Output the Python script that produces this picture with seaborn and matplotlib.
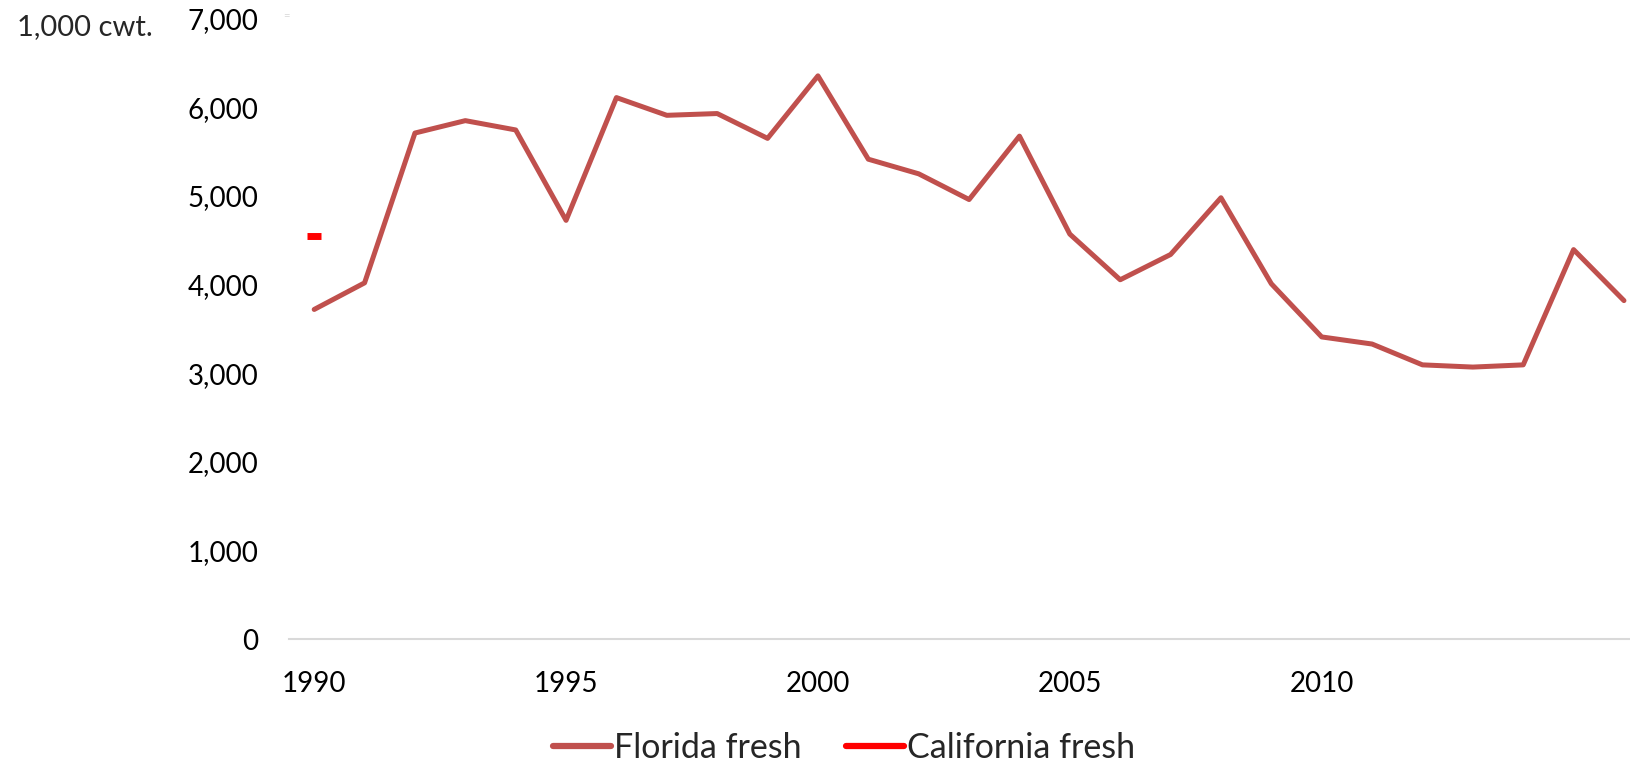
import pandas as pd
import seaborn as sns
import matplotlib.pyplot as plt

years = list(range(1990, 2017))
florida_fresh = [3720, 4020, 5710, 5850, 5745, 4725, 6110, 5910, 5930, 5650,
                 6355, 5415, 5250, 4960, 5675, 4570, 4055, 4340, 4980, 4010,
                 3410, 3330, 3095, 3070, 3095, 4395, 3820]
california_years = [1990]
california_fresh = [4550]
x_ticks = [1990, 1995, 2000, 2005, 2010]
y_ticks = [0, 1000, 2000, 3000, 4000, 5000, 6000, 7000]

sns.set_style("white")
plt.rcParams['font.family'] = ['Lato', 'DejaVu Sans']

fl_df = pd.DataFrame({'year': years, 'value': florida_fresh})
ca_df = pd.DataFrame({'year': california_years, 'value': california_fresh})

fig = plt.figure(figsize=(16.3, 7.66), dpi=100)
ax = fig.add_axes([0.1773, 0.1655, 0.8227, 0.8101])

sns.lineplot(data=fl_df, x='year', y='value', ax=ax, color='#C0504D',
             linewidth=3.6, label='Florida fresh')
# single-point series: draw it as a short dash like Excel does
ax.plot(ca_df['year'], ca_df['value'], color='#FF0000', linestyle='-',
        linewidth=3.6, marker='_', markersize=10, markeredgewidth=5,
        solid_capstyle='round', label='California fresh')

ax.set_xlim(1989.5, 2016.12)
ax.set_ylim(0, 7000)
ax.set_xticks(x_ticks)
ax.set_yticks(y_ticks)
ax.set_yticklabels([f'{v:,}' for v in y_ticks])
ax.tick_params(axis='both', length=0, labelsize=20, colors='black')
ax.tick_params(axis='y', pad=22)
ax.tick_params(axis='x', pad=23)
ax.set_xlabel('')
ax.set_ylabel('')
for side in ['top', 'right', 'left']:
    ax.spines[side].set_visible(False)
ax.spines['bottom'].set_color('#D9D9D9')
ax.spines['bottom'].set_linewidth(1.5)

fig.text(0.0105, 0.965, '1,000 cwt.', fontsize=21, va='center', ha='left')
fig.text(0.1755, 0.980, '=', fontsize=8, color='#D9D9D9', va='center', ha='center')

leg = ax.legend(loc='center', ncol=2, frameon=False,
                fontsize=24.5, handlelength=1.7, handletextpad=0.1,
                columnspacing=1.3)
leg.set_bbox_to_anchor((0.518, 0.023), transform=fig.transFigure)
for line in leg.get_lines():
    line.set_linewidth(4.5)
    line.set_marker('')

plt.savefig('out.png', dpi=100)
